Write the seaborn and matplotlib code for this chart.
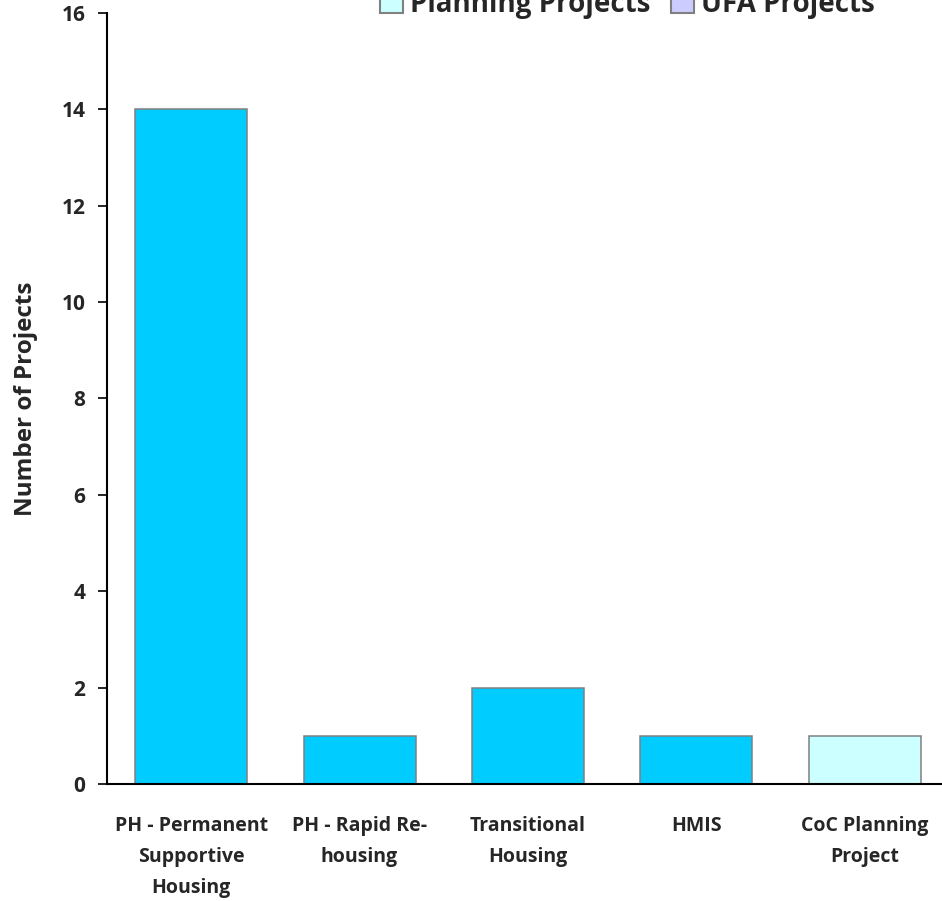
import matplotlib
matplotlib.use("Agg")
import matplotlib.pyplot as plt
from matplotlib.patches import Patch
import seaborn as sns
import pandas as pd

categories = ["PH - Permanent\nSupportive\nHousing", "PH - Rapid Re-\nhousing",
              "Transitional\nHousing", "HMIS", "CoC Planning\nProject"]
values = [14, 1, 2, 1, 1]
project_type = ["Renewal Projects", "Renewal Projects", "Renewal Projects",
                "Renewal Projects", "Planning Projects"]
legend_labels = ["Planning Projects", "UFA Projects"]
palette = {"Renewal Projects": "#00CCFF", "Planning Projects": "#CCFFFF",
           "UFA Projects": "#CCCCFF"}
y_ticks = [0, 2, 4, 6, 8, 10, 12, 14, 16]

sns.set_style("white")
plt.rcParams['font.family'] = ['Open Sans', 'DejaVu Sans']

df = pd.DataFrame({"cat": categories, "val": values, "type": project_type})

fig = plt.figure(figsize=(9.42, 9.01), dpi=100)
ax = fig.add_axes([0.1136, 0.1299, 0.8864, 0.8557])

sns.barplot(data=df, x="cat", y="val", hue="type", palette=palette,
            dodge=False, width=0.665, edgecolor="#808080", linewidth=1.1,
            saturation=1, ax=ax, legend=False)

ax.set_ylim(0, 16)
ax.set_xlim(-0.5, 4.46)
ax.set_yticks(y_ticks)
ax.set_yticklabels([str(t) for t in y_ticks], fontsize=15, fontweight="bold")
ax.tick_params(axis="y", direction="out", length=6.5, width=1.2, color="black", pad=9, left=True)
ax.tick_params(axis="x", length=0, pad=23)
for lbl in ax.get_xticklabels():
    lbl.set_fontsize(14)
    lbl.set_fontweight("bold")
    lbl.set_linespacing(1.75)
ax.set_xlabel("")
ax.set_ylabel("Number of Projects", fontsize=17.5, fontweight="bold", labelpad=17)
for s in ["top", "right"]:
    ax.spines[s].set_visible(False)
for s in ["left", "bottom"]:
    ax.spines[s].set_color("black")
    ax.spines[s].set_linewidth(1.5)

handles = [Patch(facecolor=palette[l], edgecolor="#808080", linewidth=1.5) for l in legend_labels]
fig.legend(handles, legend_labels, loc="center", bbox_to_anchor=(0.666, 0.9950),
           ncol=2, frameon=False, prop={"weight": "bold", "size": 20},
           handlelength=0.83, handleheight=0.83, handletextpad=0.25, columnspacing=0.72)

fig.savefig("out.png", dpi=100)
